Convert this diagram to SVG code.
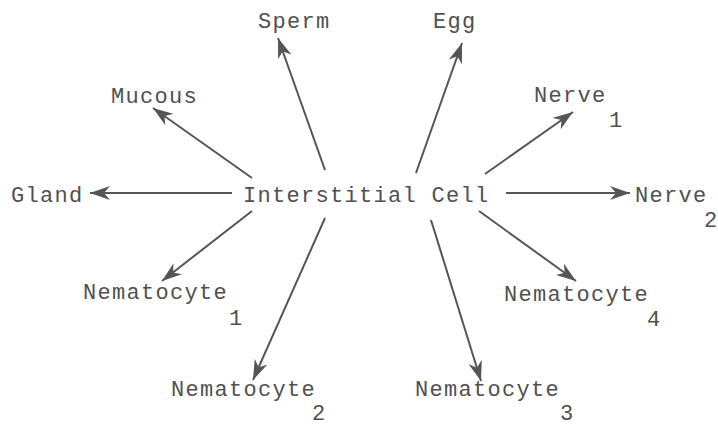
<svg xmlns="http://www.w3.org/2000/svg" width="718" height="426" viewBox="0 0 718 426">
  <style>
    .lbl { font-family: "Liberation Mono", "DejaVu Sans Mono", monospace; font-size: 22px; letter-spacing: 1.3px; fill: #505050; }
    .edge { stroke: #555; stroke-width: 2; fill: none; marker-end: url(#ah); }
  </style>
  <defs>
    <marker id="ah" markerUnits="userSpaceOnUse" markerWidth="22" markerHeight="14" refX="20" refY="7" orient="auto">
      <path d="M0,0 L20,7 L0,14 L6,7 z" fill="#555"/>
    </marker>
  </defs>
  <rect width="718" height="426" fill="#fff"/>
  <g id="connectors">
    <line class="edge" x1="232" y1="193" x2="90" y2="193"/>
    <line class="edge" x1="252" y1="178" x2="153" y2="108"/>
    <line class="edge" x1="325" y1="170" x2="278" y2="38"/>
    <line class="edge" x1="416" y1="173" x2="462" y2="43"/>
    <line class="edge" x1="485" y1="174" x2="573" y2="112"/>
    <line class="edge" x1="506" y1="193" x2="630" y2="193"/>
    <line class="edge" x1="252" y1="211" x2="162" y2="281"/>
    <line class="edge" x1="325" y1="218" x2="253" y2="380"/>
    <line class="edge" x1="431" y1="220" x2="481" y2="381"/>
    <line class="edge" x1="479" y1="211" x2="576" y2="281"/>
  </g>
  <g id="interstitial"><text class="lbl" x="243" y="202">Interstitial Cell</text></g>
  <g id="gland"><text class="lbl" x="11" y="202">Gland</text></g>
  <g id="mucous"><text class="lbl" x="111" y="103">Mucous</text></g>
  <g id="sperm"><text class="lbl" x="258" y="28">Sperm</text></g>
  <g id="egg"><text class="lbl" x="433" y="28">Egg</text></g>
  <g id="nerve1"><text class="lbl" x="534" y="102">Nerve</text><text class="lbl" x="609" y="127">1</text></g>
  <g id="nerve2"><text class="lbl" x="635" y="202">Nerve</text><text class="lbl" x="704" y="227">2</text></g>
  <g id="nematocyte1"><text class="lbl" x="83" y="299">Nematocyte</text><text class="lbl" x="229" y="325">1</text></g>
  <g id="nematocyte2"><text class="lbl" x="171" y="396">Nematocyte</text><text class="lbl" x="312" y="420">2</text></g>
  <g id="nematocyte3"><text class="lbl" x="415" y="396">Nematocyte</text><text class="lbl" x="560" y="420">3</text></g>
  <g id="nematocyte4"><text class="lbl" x="504" y="301">Nematocyte</text><text class="lbl" x="647" y="326">4</text></g>
</svg>
